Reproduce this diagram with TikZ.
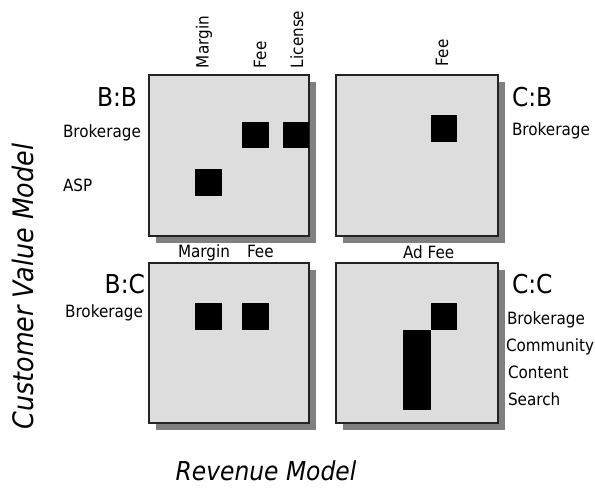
\documentclass[tikz,border=0pt]{standalone}
\usepackage{fontspec}
\setmainfont{DejaVu Sans}[FakeStretch=0.9]
\definecolor{panelfill}{RGB}{221,221,221}
\definecolor{shadowc}{RGB}{128,128,128}
\definecolor{edgec}{RGB}{35,35,35}
\begin{document}
\begin{tikzpicture}[x=1pt,y=-1pt,
  panel/.style={fill=panelfill,draw=edgec,line width=1.1pt},
  shade/.style={fill=shadowc},
  cell/.style={fill=black},
  lbl/.style={inner sep=0pt,outer sep=0pt,font=\fontsize{16.9}{19}\selectfont},
  vlbl/.style={lbl,rotate=90,anchor=base west},
  big/.style={inner sep=0pt,outer sep=0pt,font=\fontsize{26}{30}\selectfont},
  axislbl/.style={inner sep=0pt,outer sep=0pt,font=\itshape}]
\useasboundingbox (0,0) rectangle (595,488);
% shadows
\fill[shade] (156,82) rectangle (316,243);
\fill[shade] (343,82) rectangle (505,243);
\fill[shade] (156,270) rectangle (316,430);
\fill[shade] (343,270) rectangle (505,430);
% panels
\filldraw[panel] (149,75) rectangle (309,236);
\filldraw[panel] (336,75) rectangle (498,236);
\filldraw[panel] (149,263) rectangle (309,423);
\filldraw[panel] (336,263) rectangle (498,423);
% cells B:B
\fill[cell] (242,122) rectangle (269,148);
\fill[cell] (283,122) rectangle (309,148);
\fill[cell] (195,169) rectangle (222,196);
% cells C:B
\fill[cell] (431,115) rectangle (457,142);
% cells B:C
\fill[cell] (195,303) rectangle (222,330);
\fill[cell] (242,303) rectangle (269,330);
% cells C:C
\fill[cell] (431,303) rectangle (457,330);
\fill[cell] (403,330) rectangle (431,410);
% B:B labels
\node[vlbl] (bbmargin) at (208.5,68) {Margin};
\node[vlbl] (bbfee) at (266,68) {Fee};
\node[vlbl] (bblicense) at (303,68) {License};
\node[big,anchor=base west] (bb) at (97,106.5) {B:B};
\node[lbl,anchor=base west] (bbbrok) at (63,137) {Brokerage};
\node[lbl,anchor=base west] (bbasp) at (63,191.5) {ASP};
% C:B labels
\node[vlbl] (cbfee) at (448,66) {Fee};
\node[big,anchor=base west] (cb) at (512,106) {C:B};
\node[lbl,anchor=base west] (cbbrok) at (512,135.5) {Brokerage};
% B:C labels
\node[lbl,anchor=base west] (bcmargin) at (178,257.5) {Margin};
\node[lbl,anchor=base west] (bcfee) at (247,257.5) {Fee};
\node[big,anchor=base east] (bc) at (145,293) {B:C};
\node[lbl,anchor=base east] (bcbrok) at (143,317) {Brokerage};
% C:C labels
\node[lbl,anchor=base west] (ccadfee) at (403,258.5) {Ad Fee};
\node[big,anchor=base west] (cc) at (512,293) {C:C};
\node[lbl,anchor=base west] (ccbrok) at (507,324) {Brokerage};
\node[lbl,anchor=base west] (cccomm) at (506,351) {Community};
\node[lbl,anchor=base west] (cccont) at (508,378) {Content};
\node[lbl,anchor=base west] (ccsearch) at (508,405) {Search};
% axis titles
\node[axislbl,font=\itshape\fontsize{28.2}{32}\selectfont,rotate=90,anchor=base] (cvm) at (33,286.5) {Customer Value Model};
\node[axislbl,font=\itshape\fontsize{26}{30}\selectfont,anchor=base] (rm) at (266,480.5) {Revenue Model};
\end{tikzpicture}
\end{document}
